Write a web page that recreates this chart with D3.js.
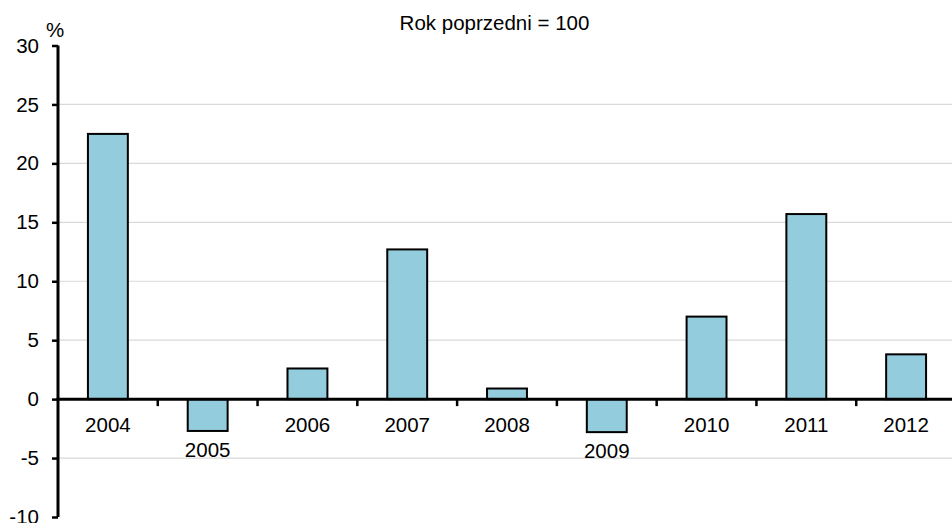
<!DOCTYPE html>
<html>
<head>
<meta charset="utf-8">
<script src="https://cdn.jsdelivr.net/npm/d3@7"></script>
<style>
html,body{margin:0;padding:0;background:#fff;}
svg{display:block;}
text{font-family:Arial,"Liberation Sans",sans-serif;fill:#000;}
</style>
</head>
<body>
<svg id="chart" width="952" height="523"></svg>
<script>
const categories = ["2004","2005","2006","2007","2008","2009","2010","2011","2012"];
const values = [22.5, -2.7, 2.6, 12.7, 0.9, -2.8, 7.0, 15.7, 3.8];
const yTicks = [-10, -5, 0, 5, 10, 15, 20, 25, 30];
const gridTicks = [-5, 5, 10, 15, 20, 25];
const title = "Rok poprzedni = 100";
const unitLabel = "%";

const svg = d3.select("#chart");
const W = 952, H = 523;
const x0 = 58, x1 = 956;
const x = d3.scaleBand().domain(categories).range([x0, x1]).padding(0);
const y = d3.scaleLinear().domain([-10, 30]).range([517, 45.5]);
const barW = x.bandwidth() * 0.4;
const fontSize = 20.5;

// gridlines
svg.append("g").selectAll("line").data(gridTicks).join("line")
  .attr("x1", x0).attr("x2", W)
  .attr("y1", d => y(d)).attr("y2", d => y(d))
  .attr("stroke", "#d9d9d9").attr("stroke-width", 1.2);

// bars
svg.append("g").selectAll("rect").data(values).join("rect")
  .attr("x", (d, i) => x(categories[i]) + x.bandwidth() / 2 - barW / 2)
  .attr("y", d => y(Math.max(0, d)))
  .attr("width", barW)
  .attr("height", d => Math.abs(y(d) - y(0)))
  .attr("fill", "#93cddd")
  .attr("stroke", "#000").attr("stroke-width", 2);

// y axis
const yAxis = d3.axisLeft(y).tickValues(yTicks).tickSize(6).tickPadding(13).tickFormat(d => String(d));
const gy = svg.append("g").attr("transform", `translate(${x0},0)`).call(yAxis);
gy.select(".domain").attr("stroke", "#000").attr("stroke-width", 3).attr("d", `M0,${y(30)}V${y(-10)}`);
gy.selectAll(".tick line").attr("stroke", "#000").attr("stroke-width", 2.5);
gy.selectAll(".tick text").attr("font-size", fontSize).attr("font-family", "Arial, 'Liberation Sans', sans-serif").attr("fill", "#000");

// x axis line
svg.append("line").attr("x1", x0 - 1.5).attr("x2", W).attr("y1", y(0)).attr("y2", y(0))
  .attr("stroke", "#000").attr("stroke-width", 3);

// x ticks between categories
svg.append("g").selectAll("line").data(categories.slice(1)).join("line")
  .attr("x1", d => x(d)).attr("x2", d => x(d))
  .attr("y1", y(0)).attr("y2", y(0) + 7)
  .attr("stroke", "#000").attr("stroke-width", 2.5);

// category labels
svg.append("g").selectAll("text").data(categories).join("text")
  .attr("x", d => x(d) + x.bandwidth() / 2)
  .attr("y", (d, i) => Math.max(y(0) + 33, y(values[i]) + 25.7))
  .attr("text-anchor", "middle")
  .attr("font-size", fontSize)
  .text(d => d);

// title
svg.append("text").attr("x", 494.5).attr("y", 30).attr("text-anchor", "middle")
  .attr("font-size", fontSize).text(title);

// unit
svg.append("text").attr("x", 55).attr("y", 37).attr("text-anchor", "middle")
  .attr("font-size", fontSize).text(unitLabel);
</script>
</body>
</html>
